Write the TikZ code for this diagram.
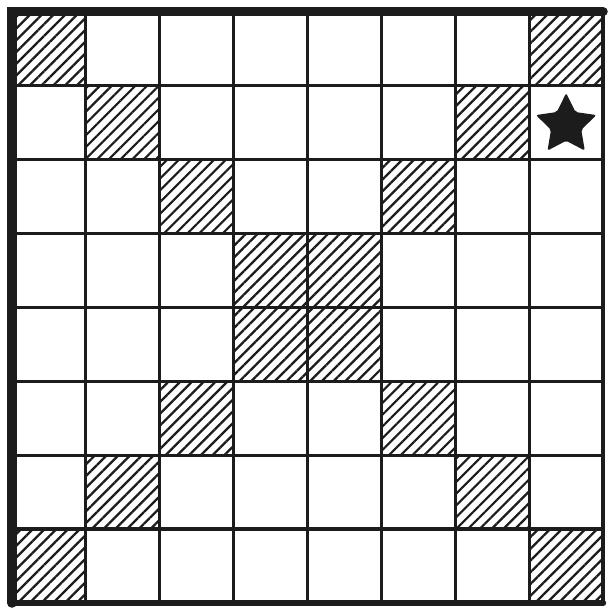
\documentclass[tikz,border=0pt]{standalone}
\usepackage{tikz}
\usetikzlibrary{patterns.meta,shapes.geometric}
\definecolor{ink}{HTML}{1c1c1c}

\begin{document}
\begin{tikzpicture}[
  gridline/.style={line width=1.3pt, draw=ink},
  hatched/.style={pattern={Lines[angle=45,distance=3.2pt,line width=0.85pt]}, pattern color=ink},
  border/.style={draw=ink, line cap=round}
]
  \useasboundingbox (-0.16,-0.08) rectangle (8.08,8.16);
  \def\n{8}

  % Hatched cells along both diagonals
  \foreach \i in {1,...,8} {
    \pgfmathtruncatemacro\j{\n+1-\i}
    \fill[hatched] (\i-1,\n-\i) rectangle ++(1,1);
    \fill[hatched] (\j-1,\n-\i) rectangle ++(1,1);
  }

  % Board lines
  \draw[gridline] (0,0) grid (\n,\n);
  \draw[border, line width=3.6pt] (0,0) -- (0,\n) -- (\n,\n);
  \draw[border, line width=2.4pt] (0,0) -- (\n,0);
  \draw[border, line width=1.6pt] (\n,0) -- (\n,\n);

  % Star
  \node[star, star points=5, star point ratio=2.0, fill=ink, rounded corners=0.8pt,
        minimum size=0.86cm, inner sep=0pt] (goal) at (7.5,6.47) {};
\end{tikzpicture}
\end{document}
